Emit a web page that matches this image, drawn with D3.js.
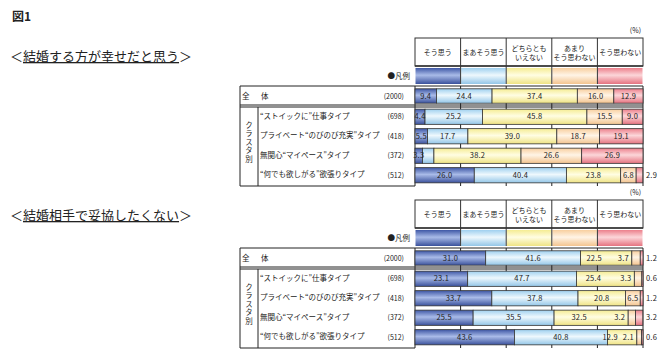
<!DOCTYPE html>
<html lang="ja">
<head>
<meta charset="UTF-8">
<title>図1</title>
<script src="https://d3js.org/d3.v7.min.js"></script>
<style>
  body { margin: 0; background: #fff; }
  svg text { font-family: "Noto Sans CJK JP", "DejaVu Sans", sans-serif; fill: #222; }
</style>
</head>
<body>
<svg id="chart"></svg>
<script>
// 回答カテゴリ（凡例の見出し）
var categories = ["そう思う", "まあそう思う", "どちらともいえない", "あまりそう思わない", "そう思わない"];
var headerLines = [["そう思う"], ["まあそう思う"], ["どちらとも", "いえない"], ["あまり", "そう思わない"], ["そう思わない"]];

// 行ラベル
var totalLabel = "全体";
var clusterLabels = ["“ストイックに”仕事タイプ", "プライベート“のびのび充実”タイプ", "無関心“マイペース”タイプ", "“何でも欲しがる”欲張りタイプ"];
var counts = [2000, 698, 418, 372, 512];

// 結婚する方が幸せだと思う（全体 + クラスタ4つ）
var happyValues = [
  [9.4, 24.4, 37.4, 16.0, 12.9],
  [4.4, 25.2, 45.8, 15.5, 9.0],
  [5.5, 17.7, 39.0, 18.7, 19.1],
  [3.3, 5.0, 38.2, 26.6, 26.9],
  [26.0, 40.4, 23.8, 6.8, 2.9]
];
// 結婚相手で妥協したくない
var compromiseValues = [
  [31.0, 41.6, 22.5, 3.7, 1.2],
  [23.1, 47.7, 25.4, 3.3, 0.6],
  [33.7, 37.8, 20.8, 6.5, 1.2],
  [25.5, 35.5, 32.5, 3.2, 3.2],
  [43.6, 40.8, 12.9, 2.1, 0.6]
];
// 表示しない数値ラベル [行, 列]
var happyHidden = [[3, 1]];
var compromiseHidden = [];

var width = 663, height = 357;
var svg = d3.select("#chart").attr("width", width).attr("height", height);

// グラデーション（上下が濃く、中央が明るい）
var fills = [
  ["#3f58a6", "#a9bbe8", "#3a519c"],
  ["#9fd0ef", "#eef8fd", "#93c6e8"],
  ["#f5ec93", "#fffde2", "#efe384"],
  ["#f8cf9f", "#fff4e6", "#f3c48f"],
  ["#ec808c", "#fcd6d9", "#e57380"]
];
var defs = svg.append("defs");
fills.forEach(function(f, i) {
  var g = defs.append("linearGradient").attr("id", "g" + i)
      .attr("x1", 0).attr("y1", 0).attr("x2", 0).attr("y2", 1);
  g.append("stop").attr("offset", "0%").attr("stop-color", f[0]);
  g.append("stop").attr("offset", "45%").attr("stop-color", f[1]);
  g.append("stop").attr("offset", "100%").attr("stop-color", f[2]);
});

var x = d3.scaleLinear().domain([0, 100]).range([415, 643]);

svg.append("text").attr("x", 12).attr("y", 21)
  .style("font-size", "12px").style("font-weight", "bold").text("図1");

function drawPanel(oy, titleY, title, values, hidden) {
  var g = svg.append("g");

  // タイトル
  var t = g.append("text").attr("x", 10).attr("y", titleY).style("font-size", "13px");
  t.append("tspan").text("＜");
  t.append("tspan").style("text-decoration", "underline").text(title);
  t.append("tspan").text("＞");

  g.append("text").attr("x", 641).attr("y", oy + 33).attr("text-anchor", "end")
    .style("font-size", "7px").text("(%)");

  var top = oy + 86, bottom = oy + 186;

  // 目盛り線（バーの後ろ）
  g.selectAll(".grid").data(d3.range(0, 101, 20)).enter().append("line")
    .attr("x1", function(d) { return x(d); }).attr("x2", function(d) { return x(d); })
    .attr("y1", top).attr("y2", bottom)
    .attr("stroke", "#222").attr("stroke-width", 1);

  // 見出し
  g.append("rect").attr("x", x(0)).attr("y", oy + 38).attr("width", x(100) - x(0)).attr("height", 28)
    .attr("fill", "#fff").attr("stroke", "#333");
  g.append("line").attr("x1", x(0)).attr("x2", x(100)).attr("y1", oy + 66).attr("y2", oy + 66)
    .attr("stroke", "#333").attr("stroke-width", 1.5);
  categories.forEach(function(c, i) {
    var cx = (x(i * 20) + x(i * 20 + 20)) / 2;
    var lines = headerLines[i];
    lines.forEach(function(s, j) {
      g.append("text").attr("x", cx)
        .attr("y", oy + 55 + (j - (lines.length - 1) / 2) * 9)
        .attr("text-anchor", "middle").style("font-size", "7px").text(s);
    });
    // 凡例
    g.append("rect").attr("x", x(i * 20) + 0.5).attr("y", oy + 68)
      .attr("width", x(20) - x(0) - 1).attr("height", 16).attr("fill", "url(#g" + i + ")");
  });
  g.selectAll(".hdiv").data(d3.range(20, 100, 20)).enter().append("line")
    .attr("x1", function(d) { return x(d); }).attr("x2", function(d) { return x(d); })
    .attr("y1", oy + 38).attr("y2", oy + 84).attr("stroke", "#333");
  g.append("text").attr("x", 410).attr("y", oy + 79).attr("text-anchor", "end")
    .style("font-size", "7.5px").text("●凡例");

  // 表の罫線
  g.append("line").attr("x1", 240).attr("x2", x(100)).attr("y1", top).attr("y2", top).attr("stroke", "#222");
  g.append("line").attr("x1", 240).attr("x2", x(100)).attr("y1", oy + 105).attr("y2", oy + 105).attr("stroke", "#222");
  g.append("line").attr("x1", 240).attr("x2", x(100)).attr("y1", oy + 107).attr("y2", oy + 107).attr("stroke", "#222");
  g.append("line").attr("x1", 240).attr("x2", x(0)).attr("y1", bottom).attr("y2", bottom).attr("stroke", "#222");
  g.append("line").attr("x1", 240).attr("x2", 240).attr("y1", top).attr("y2", bottom).attr("stroke", "#222");
  g.append("line").attr("x1", 258).attr("x2", 258).attr("y1", oy + 107).attr("y2", bottom).attr("stroke", "#222");

  var yTotal = d3.scaleBand().domain([totalLabel]).range([oy + 87, oy + 105]).paddingInner(0.2).paddingOuter(0.1);
  var yCluster = d3.scaleBand().domain(clusterLabels).range([oy + 107, oy + 185]).paddingInner(0.22).paddingOuter(0.11);

  var rows = [{ name: totalLabel, y: yTotal(totalLabel), h: yTotal.bandwidth() }].concat(
    clusterLabels.map(function(c) { return { name: c, y: yCluster(c), h: yCluster.bandwidth() }; }));

  // 行ラベル
  var r0 = rows[0];
  g.append("text").attr("x", 242).attr("y", r0.y + r0.h / 2 + 2.5).style("font-size", "7.5px").text("全");
  g.append("text").attr("x", 261).attr("y", r0.y + r0.h / 2 + 2.5).style("font-size", "7.5px").text("体");
  g.append("text").attr("x", 249).attr("y", oy + 121)
    .style("writing-mode", "vertical-rl").style("letter-spacing", "1px")
    .style("font-size", "7.5px").text("クラスタ別");
  rows.forEach(function(r, i) {
    if (i > 0) {
      g.append("text").attr("x", 260).attr("y", r.y + r.h / 2 + 2).style("font-size", "7.5px").text(r.name);
    }
    g.append("text").attr("x", 404).attr("y", r.y + r.h / 2 + 2.5).attr("text-anchor", "end")
      .style("font-size", "7px").text("(" + counts[i] + ")");
  });

  // 積み上げ棒
  rows.forEach(function(r, i) {
    var vals = values[i];
    var cum = 0;
    var segs = vals.map(function(v, j) {
      var s = { v: v, j: j, x0: x(cum), x1: x(cum + v) };
      cum += v;
      return s;
    });
    segs[segs.length - 1].x1 = Math.min(segs[segs.length - 1].x1, x(100));
    g.selectAll(".seg" + i).data(segs).enter().append("rect")
      .attr("x", function(d) { return d.x0; }).attr("y", r.y)
      .attr("width", function(d) { return Math.max(0, d.x1 - d.x0); }).attr("height", r.h)
      .attr("fill", function(d) { return "url(#g" + d.j + ")"; })
      .attr("stroke", "#333").attr("stroke-width", 0.8);

    segs.forEach(function(d) {
      var isHidden = hidden.some(function(h) { return h[0] === i && h[1] === d.j; });
      if (isHidden) return;
      var tx = (d.x0 + d.x1) / 2, anchor = "middle";
      if (d.j === 4 && d.v < 5) { tx = 646; anchor = "start"; }
      else if (d.j === 3 && d.v < 5) { tx = d.x0 - 3; anchor = "end"; }
      else if (d.j === 2 && vals[3] < 5) { tx = (d.x0 + d.x1 - 24) / 2; }
      g.append("text").attr("x", tx).attr("y", r.y + r.h / 2 + 2.6)
        .attr("text-anchor", anchor).style("font-size", "7.5px")
        .style("letter-spacing", "0.2px").text(d.v.toFixed(1));
    });
  });
}

drawPanel(0, 61, "結婚する方が幸せだと思う", happyValues, happyHidden);
drawPanel(162, 220, "結婚相手で妥協したくない", compromiseValues, compromiseHidden);
</script>
</body>
</html>
